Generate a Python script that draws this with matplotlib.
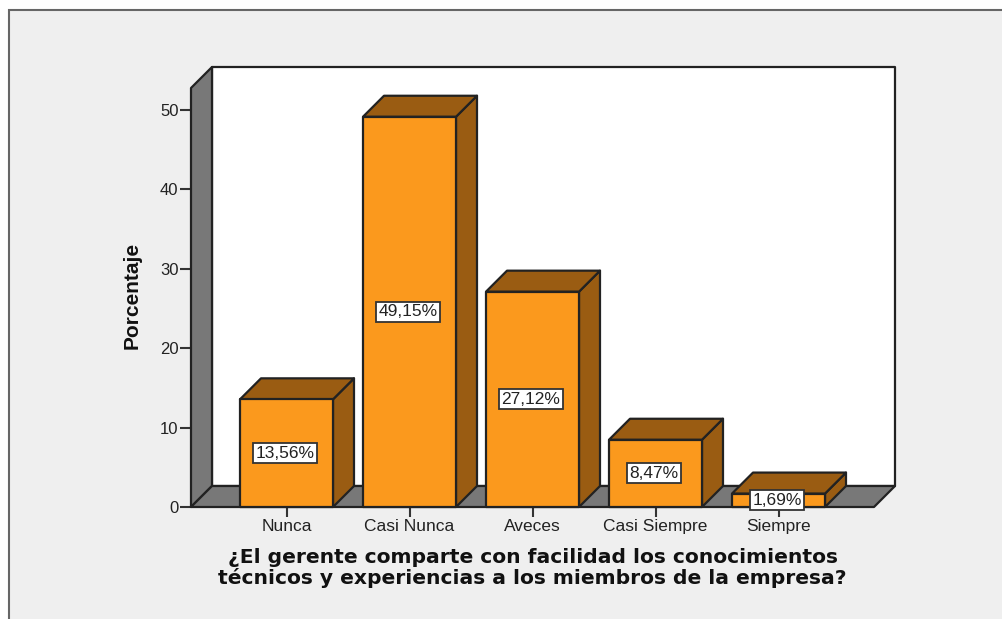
import matplotlib
matplotlib.use("Agg")
import matplotlib.pyplot as plt
from matplotlib.patches import Polygon, Rectangle

categorias = ["Nunca", "Casi Nunca", "Aveces", "Casi Siempre", "Siempre"]
porcentajes = [13.56, 49.15, 27.12, 8.47, 1.69]
etiquetas = ["13,56%", "49,15%", "27,12%", "8,47%", "1,69%"]
yticks = [0, 10, 20, 30, 40, 50]
titulo = "¿El gerente comparte con facilidad los conocimientos\ntécnicos y experiencias a los miembros de la empresa?"

W, H = 1002, 619
NARANJA = "#fb991d"
OSCURO = "#9a5c12"
GRIS = "#787878"
FONDO = "#efefef"
LINEA = "#222222"

plt.rcParams["font.family"] = ["Liberation Sans", "DejaVu Sans"]

fig = plt.figure(figsize=(W / 100, H / 100), dpi=100, facecolor="white")
fig.add_artist(Rectangle((9 / W, -0.1), 1.1, 1.1 - 10 / H, transform=fig.transFigure,
                         facecolor=FONDO, edgecolor="#666666", linewidth=1.5, zorder=-1))

# caja frontal del grafico en pixeles
left, right, bottom, top = 191, 874, 507, 88
ax = fig.add_axes([left / W, 1 - bottom / H, (right - left) / W, (bottom - top) / H])
ax.patch.set_visible(False)
for s in ax.spines.values():
    s.set_visible(False)

paso = 123.0
escala = (507 - 110) / 50.0
ax.set_xlim((left - 286.5) / paso, (right - 286.5) / paso)
ax.set_ylim(0, (bottom - top) / escala)
dx = 21 / paso
dy = 21 / escala
ancho = 93 / paso
x0, x1 = ax.get_xlim()
ytop = ax.get_ylim()[1]


def poly(puntos, color, z):
    ax.add_patch(Polygon(puntos, closed=True, facecolor=color, edgecolor=LINEA,
                         linewidth=1.6, joinstyle="round", clip_on=False, zorder=z))


# paredes y piso
poly([(x0 + dx, dy), (x1 + dx, dy), (x1 + dx, ytop + dy), (x0 + dx, ytop + dy)], "white", 1)
poly([(x0, 0), (x0 + dx, dy), (x0 + dx, ytop + dy), (x0, ytop)], GRIS, 2)
poly([(x0, 0), (x1, 0), (x1 + dx, dy), (x0 + dx, dy)], GRIS, 2)

for i, v in enumerate(porcentajes):
    a = i - ancho / 2
    b = i + ancho / 2
    z = 3 + i
    poly([(b, 0), (b + dx, dy), (b + dx, v + dy), (b, v)], OSCURO, z)
    poly([(a, v), (b, v), (b + dx, v + dy), (a + dx, v + dy)], OSCURO, z)
    poly([(a, 0), (b, 0), (b, v), (a, v)], NARANJA, z)
    ax.text(i - 0.012, v / 2, etiquetas[i], ha="center", va="center", fontsize=12.5,
            color="#222222", zorder=20,
            bbox=dict(boxstyle="square,pad=0.15", facecolor="white", edgecolor="#333333", linewidth=1.3))

ax.set_xticks(range(len(categorias)))
ax.set_xticklabels(categorias)
ax.set_yticks(yticks)
ax.tick_params(axis="x", length=7, width=1.5, color="#333333", labelsize=12.5, labelcolor="#222222", pad=1.5)
ax.tick_params(axis="y", length=8, width=1.5, color="#333333", labelsize=12, labelcolor="#222222", pad=1)

ax.set_ylabel("Porcentaje", fontsize=15, fontweight="bold", color="#111111", labelpad=13, y=0.505)
ax.set_xlabel(titulo, fontsize=14.6, fontweight="bold", family="DejaVu Sans", color="#111111",
              linespacing=1.05, labelpad=10.5)

fig.savefig("out.png", dpi=100, facecolor=fig.get_facecolor())
